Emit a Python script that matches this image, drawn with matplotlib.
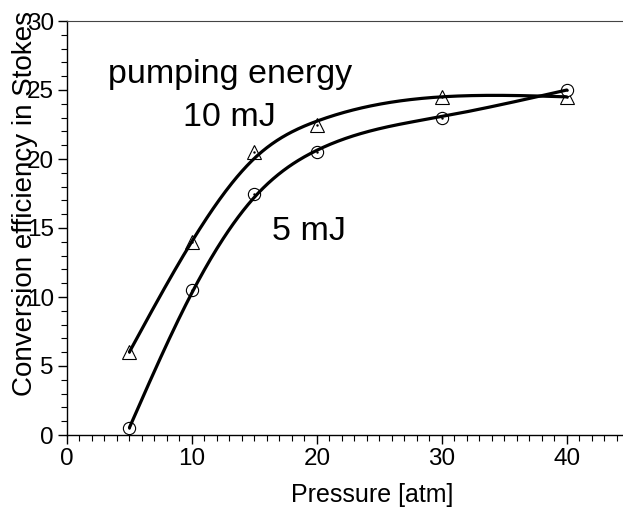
import numpy as np
import matplotlib
matplotlib.use("Agg")
import matplotlib.pyplot as plt
from matplotlib.ticker import MultipleLocator

plt.rcParams['font.family'] = ['Liberation Sans', 'DejaVu Sans']

pressure = [5, 10, 15, 20, 30, 40]
eff_10mJ = [6.0, 14.0, 20.5, 22.5, 24.5, 24.5]
eff_5mJ = [0.5, 10.5, 17.5, 20.5, 23.0, 25.0]

x_ticks = [0, 10, 20, 30, 40]
y_ticks = [0, 5, 10, 15, 20, 25, 30]


def smooth_fit(x, y, lam=10.0, h=0.1, end_weight=6.0):
    """Penalised least-squares (smoothing-spline-like) curve through the data."""
    x = np.asarray(x, float)
    y = np.asarray(y, float)
    xs = np.arange(x.min(), x.max() + h / 2, h)
    n = len(xs)
    idx = np.round((x - x.min()) / h).astype(int)
    w = np.ones(len(x))
    w[0] = w[-1] = end_weight
    W = np.zeros((n, n))
    b = np.zeros(n)
    for i, yi, wi in zip(idx, y, w):
        W[i, i] += wi
        b[i] += wi * yi
    D = np.zeros((n - 2, n))
    for k in range(n - 2):
        D[k, k:k + 3] = [1.0, -2.0, 1.0]
    D /= h ** 2
    A = W + lam * h * (D.T @ D)
    ys = np.linalg.solve(A, b)
    return xs, ys


fig = plt.figure(figsize=(6.23, 5.08), dpi=100)
ax = fig.add_axes([67/623, 73/508, 556/623, 414/508])

for yv in (eff_10mJ, eff_5mJ):
    xs, ys = smooth_fit(pressure, yv)
    ax.plot(xs, ys, color='black', lw=2.3, zorder=3, solid_capstyle='round')

ax.plot(pressure, eff_10mJ, linestyle='none', marker='^', ms=10, mfc='white',
        mec='black', mew=0.8, zorder=2)
ax.plot(pressure, eff_5mJ, linestyle='none', marker='o', ms=8.8, mfc='white',
        mec='black', mew=0.8, zorder=2)
ax.plot(pressure, eff_10mJ, linestyle='none', marker='.', ms=1.5, color='black', zorder=2.5)
ax.plot(pressure, eff_5mJ, linestyle='none', marker='.', ms=1.5, color='black', zorder=2.5)

ax.set_xlim(0, 44.5)
ax.set_ylim(0, 30)
ax.set_xticks(x_ticks)
ax.set_yticks(y_ticks)
ax.xaxis.set_minor_locator(MultipleLocator(1))
ax.yaxis.set_minor_locator(MultipleLocator(1))
ax.tick_params(which='major', direction='out', length=6.5, width=1, labelsize=17.5, pad=3)
ax.tick_params(which='minor', direction='out', length=4, width=0.8)
ax.tick_params(axis='x', which='both', top=False)
ax.tick_params(axis='y', which='both', right=False)

ax.spines['right'].set_visible(False)
ax.spines['top'].set_color('#444444')
for s in ('left', 'bottom'):
    ax.spines[s].set_linewidth(1.0)

ax.set_xlabel('Pressure [atm]', fontsize=18)
ax.xaxis.set_label_coords(0.549, -0.115)
ax.set_ylabel('Conversion efficiency in Stokes', fontsize=20)
ax.yaxis.set_label_coords(-0.052, 0.558)

ax.text(3.3, 25.5, 'pumping energy', fontsize=24.5, ha='left', va='baseline')
ax.text(9.3, 22.4, '10 mJ', fontsize=24.5, ha='left', va='baseline')
ax.text(16.4, 14.1, '5 mJ', fontsize=24.5, ha='left', va='baseline')

fig.savefig('out.png', dpi=100)
